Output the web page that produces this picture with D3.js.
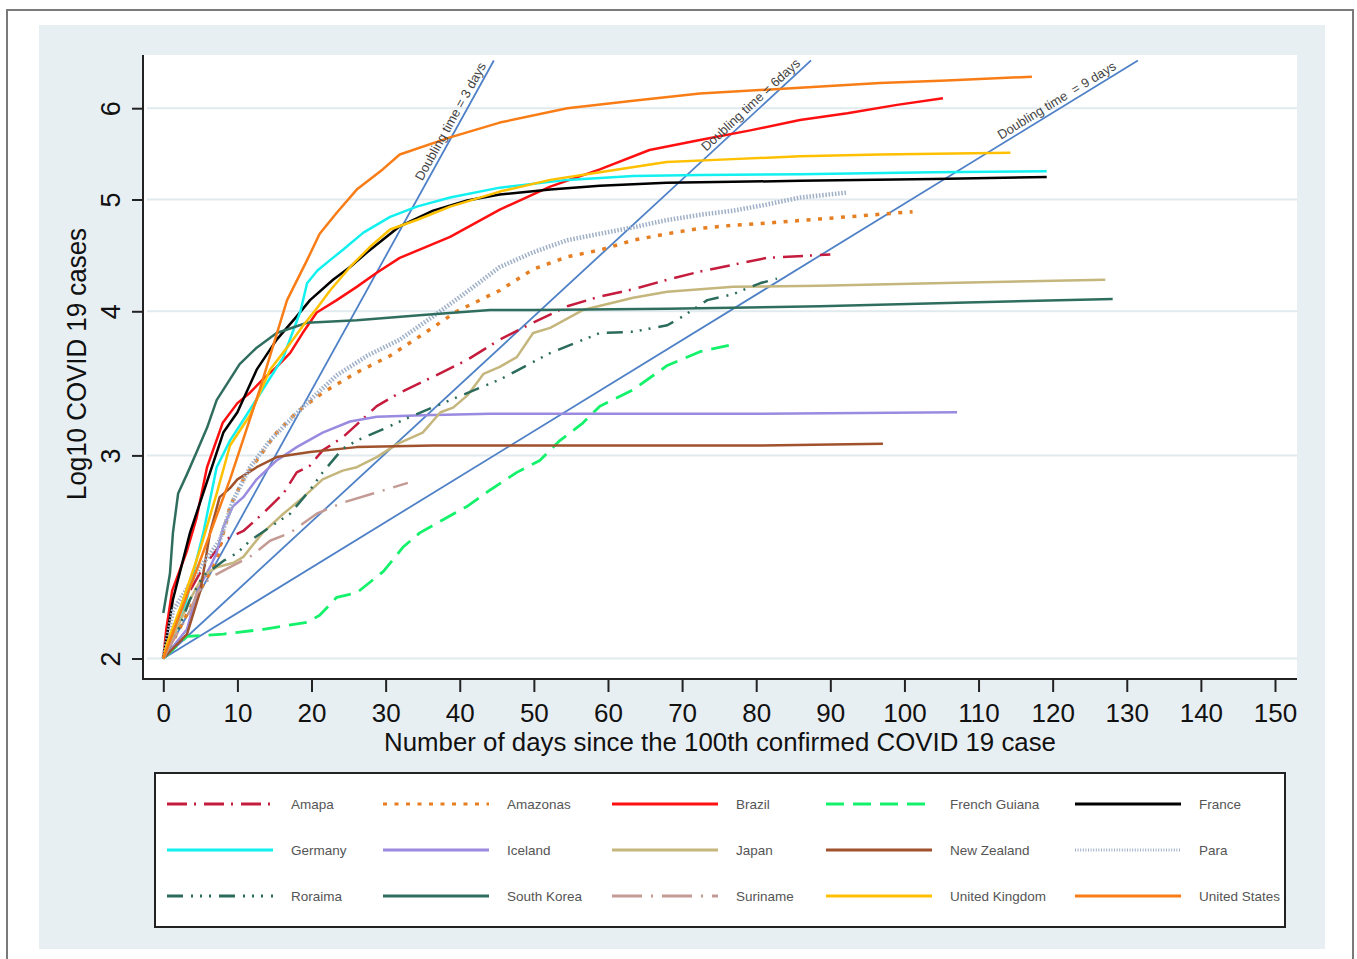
<!DOCTYPE html>
<html>
<head>
<meta charset="utf-8">
<script src="https://cdn.jsdelivr.net/npm/d3@7"></script>
<style>
  body { margin: 0; background: #fff; }
  text { font-family: "Liberation Sans", Arial, sans-serif; }
</style>
</head>
<body>
<script>
// series values: [days since 100th case, log10 cases]
const amapa = [[0,2.0],[0.5,2.05],[1.8,2.16],[3.6,2.29],[5.4,2.40],[8.1,2.53],[10.8,2.58],[13.4,2.67],[16.2,2.78],[18,2.90],[19.8,2.94],[21.5,3.03],[24.2,3.11],[26.1,3.19],[28.8,3.31],[31.9,3.40],[36.4,3.51],[41,3.63],[45.4,3.78],[49.9,3.91],[54.5,4.04],[58.9,4.12],[63.4,4.18],[68,4.26],[72.4,4.33],[76.9,4.39],[81.4,4.45],[90,4.48]];
const amazonas = [[0,2.0],[1.8,2.10],[3.6,2.21],[5.4,2.32],[7.2,2.43],[8.1,2.57],[9,2.71],[10.8,2.86],[12.6,2.97],[15.3,3.14],[18,3.27],[21.5,3.40],[26.1,3.54],[30.6,3.66],[35,3.82],[39.6,4.00],[45.4,4.17],[49.9,4.35],[54.5,4.46],[58.9,4.52],[63.4,4.61],[68,4.67],[72.4,4.72],[76.9,4.75],[81.4,4.77],[88.6,4.81],[92.3,4.83],[101.1,4.88]];
const brazil = [[0,2.0],[0.4,2.12],[1.2,2.29],[3.2,2.48],[4.5,2.65],[5.9,2.93],[8,3.20],[10,3.33],[11.7,3.40],[13.4,3.49],[15.3,3.58],[17.1,3.68],[18.8,3.83],[20.7,3.99],[23.4,4.09],[26.1,4.20],[28.8,4.32],[31.9,4.45],[38.7,4.64],[45.4,4.90],[52.2,5.13],[58.9,5.31],[65.6,5.52],[72.4,5.63],[79.2,5.74],[85.9,5.86],[92.3,5.94],[99,6.04],[105.2,6.12]];
const frenchGuiana = [[0,2.0],[3.2,2.09],[8.1,2.10],[13.5,2.12],[19.4,2.15],[21.1,2.18],[23.4,2.26],[26.1,2.28],[29.7,2.38],[32.4,2.50],[34.6,2.57],[37.8,2.64],[41,2.71],[44.1,2.80],[47.7,2.90],[50.8,2.97],[53.5,3.09],[56.6,3.20],[58.9,3.31],[63.4,3.42],[68,3.59],[72.4,3.69],[77.4,3.75]];
const france = [[0,2.0],[1.3,2.25],[3.6,2.57],[8.1,3.14],[10,3.27],[12.6,3.56],[15.3,3.78],[18,3.96],[19.8,4.09],[22.9,4.26],[25.2,4.37],[27.5,4.50],[31.9,4.74],[36.4,4.89],[41,4.99],[45.4,5.05],[52.2,5.10],[58.9,5.14],[67.9,5.17],[76.9,5.18],[85.9,5.19],[103.9,5.21],[119.2,5.23]];
const germany = [[0,2.0],[2.7,2.19],[5.4,2.57],[7.2,2.93],[9,3.09],[10.8,3.22],[13.4,3.42],[16.2,3.65],[18.5,4.00],[19.4,4.23],[20.8,4.34],[22.5,4.43],[24.2,4.52],[27,4.68],[30.6,4.83],[34.2,4.93],[38.7,5.02],[45.4,5.12],[54.5,5.20],[63.4,5.24],[72.4,5.25],[85.9,5.26],[103.9,5.28],[119.2,5.29]];
const iceland = [[0,2.0],[3.2,2.12],[4.6,2.29],[6.3,2.40],[7.2,2.47],[8.1,2.60],[9.4,2.71],[10.8,2.76],[12.6,2.86],[15.3,2.97],[18,3.05],[21.5,3.14],[25.2,3.21],[28.8,3.24],[35,3.25],[44.1,3.26],[80.5,3.26],[107.1,3.27]];
const japan = [[0,2.0],[3.6,2.25],[5.4,2.36],[7.2,2.40],[9.4,2.42],[10.8,2.45],[13.4,2.57],[16.2,2.67],[18.9,2.76],[21.5,2.86],[24.2,2.91],[26.1,2.93],[28.8,2.99],[31.6,3.07],[35,3.14],[37.4,3.27],[39.1,3.30],[41,3.38],[43.2,3.53],[45.4,3.58],[47.7,3.65],[49.9,3.83],[52.2,3.87],[56.6,4.01],[63.4,4.11],[68,4.16],[76.9,4.20],[88.6,4.21],[103.9,4.23],[127.1,4.26]];
const newZealand = [[0,2.0],[3.2,2.10],[5,2.29],[6.3,2.57],[7.6,2.76],[9,2.81],[10,2.86],[12.6,2.93],[15.3,2.99],[19.8,3.02],[26.1,3.05],[36.4,3.06],[80.5,3.06],[97.1,3.07]];
const para = [[0,2.0],[1.3,2.20],[5,2.40],[7.6,2.53],[9.4,2.74],[11.7,2.93],[14.4,3.09],[17.1,3.22],[19.8,3.35],[23.4,3.52],[27.5,3.66],[31.9,3.78],[36.4,3.96],[41,4.16],[45.4,4.37],[49.9,4.50],[54.5,4.61],[58.9,4.67],[63.4,4.73],[68,4.80],[72.4,4.85],[76.9,4.89],[81.4,4.95],[85.9,5.02],[92.3,5.07]];
const roraima = [[0,2.0],[1.8,2.10],[3.6,2.25],[5.4,2.36],[8.1,2.43],[10,2.47],[11.7,2.53],[14.4,2.60],[17.1,2.67],[19.8,2.80],[21.5,2.90],[24.2,3.04],[26.1,3.09],[29.6,3.16],[33.3,3.24],[38.7,3.35],[45.4,3.49],[52.2,3.68],[58.9,3.83],[63.4,3.84],[68,3.89],[70.1,3.96],[73.4,4.09],[76.9,4.14],[80.5,4.23],[82.8,4.27]];
const southKorea = [[0,2.19],[0.9,2.37],[1.3,2.57],[2,2.78],[3.2,2.89],[4.5,3.02],[5.9,3.17],[7.2,3.35],[8.6,3.46],[10.3,3.60],[12.6,3.72],[15.3,3.83],[19.4,3.91],[26.1,3.93],[35,3.97],[44.1,4.01],[49.9,4.01],[68,4.02],[88.6,4.04],[108.4,4.07],[128.1,4.10]];
const suriname = [[0,2.0],[1.8,2.10],[3.2,2.17],[4.6,2.28],[6.3,2.35],[9,2.40],[11.7,2.45],[14.4,2.53],[17.1,2.57],[20.7,2.67],[24.2,2.73],[28.3,2.78],[33,2.84]];
const unitedKingdom = [[0,2.0],[0.5,2.06],[2.7,2.25],[5,2.49],[7.2,2.78],[9,3.06],[11.7,3.25],[14.4,3.56],[17.1,3.75],[18.9,3.89],[20.8,4.03],[22.5,4.17],[25.2,4.37],[27.9,4.55],[30.6,4.71],[34.2,4.80],[38.7,4.93],[45.4,5.08],[52.2,5.20],[58.9,5.28],[67.9,5.39],[76.9,5.42],[85.9,5.45],[96.7,5.47],[114.3,5.49]];
const unitedStates = [[0,2.0],[4.95,2.43],[9,2.86],[13,3.42],[16.7,4.09],[19.4,4.43],[21.1,4.67],[23.4,4.87],[26.1,5.10],[29.6,5.31],[31.9,5.47],[38.7,5.66],[45.4,5.83],[54.5,6.00],[63.4,6.09],[72.4,6.18],[85.9,6.25],[96.7,6.31],[105.7,6.34],[117.2,6.39]];

const names = ["Amapa","Amazonas","Brazil","French Guiana","France","Germany","Iceland","Japan","New Zealand","Para","Roraima","South Korea","Suriname","United Kingdom","United States"];
const values = [amapa, amazonas, brazil, frenchGuiana, france, germany, iceland, japan, newZealand, para, roraima, southKorea, suriname, unitedKingdom, unitedStates];

// reference lines: doubling time in days, and where each line stops
const doublingDays = [3, 6, 9];
const doublingLabels = ["Doubling time = 3 days", "Doubling time = 6days", "Doubling time  = 9 days"];
const doublingEnd = [[44.6, 6.6], [87.4, 6.6], [131.5, 6.6]];

const xTicks = d3.range(0, 151, 10);
const yTicks = [2, 3, 4, 5, 6];

// styles
const colors = ["#c51b3d","#e67e22","#ff1010","#13f26a","#000000","#12f0f0","#9a8ae0","#c4b67c","#a0522d","#9fb0c8","#2b6b5b","#2f6e5f","#c49a94","#ffc000","#f97d16"];
const dashes = ["20,7,2,8","4,7.5",null,"18,9",null,null,null,null,null,"1.5,1.7","16,8,2,7,2,7,2,8",null,"30,9,2,9",null,null];
const widths = [2.5,3.5,2.5,2.8,2.5,2.5,2.5,2.5,2.5,4.5,2.5,2.5,2.5,2.5,2.5];
const labelBack = [8, 10, 22];   // how far each doubling label stops before its line end

const W = 1357, H = 959;
const plot = {left: 143, right: 1297, top: 55, bottom: 679};

const svg = d3.select("body").append("svg")
    .attr("width", W)
    .attr("height", H);

// frame and backgrounds
svg.append("rect").attr("x", 7).attr("y", 10).attr("width", 1346).attr("height", 970)
    .attr("fill", "#fff").attr("stroke", "#7a7a7a").attr("stroke-width", 2);
svg.append("rect").attr("x", 39).attr("y", 25).attr("width", 1286).attr("height", 924)
    .attr("fill", "#e8eff2");
svg.append("rect").attr("x", plot.left).attr("y", plot.top)
    .attr("width", plot.right - plot.left).attr("height", plot.bottom - plot.top)
    .attr("fill", "#fff");

// scales
const x = d3.scaleLinear().domain([0, 150]).range([163.3, 1275]);
const y = d3.scaleLog().domain([2, 6]).range([658.5, 108.2]);

svg.append("clipPath").attr("id", "clip").append("rect")
    .attr("x", plot.left).attr("y", plot.top)
    .attr("width", plot.right - plot.left).attr("height", plot.bottom - plot.top);

// gridlines
svg.append("g").selectAll("line").data(yTicks).join("line")
    .attr("x1", plot.left + 4).attr("x2", plot.right)
    .attr("y1", d => y(d)).attr("y2", d => y(d))
    .attr("stroke", "#e1eaee").attr("stroke-width", 2);

const g = svg.append("g").attr("clip-path", "url(#clip)");

// doubling time lines
doublingDays.forEach((d, i) => {
    const p0 = [x(0), y(2)];
    const p1 = [x(doublingEnd[i][0]), y(doublingEnd[i][1])];
    g.append("path")
        .datum([[0, 2], doublingEnd[i]])
        .attr("d", d3.line().x(p => x(p[0])).y(p => y(p[1])))
        .attr("fill", "none").attr("stroke", "#4f81c7").attr("stroke-width", 1.8);
    const dx = p1[0] - p0[0], dy = p1[1] - p0[1];
    const len = Math.hypot(dx, dy), ux = dx / len, uy = dy / len;
    const ang = Math.atan2(dy, dx) * 180 / Math.PI;
    const back = labelBack[i];
    const ax = p1[0] - back * ux + 4 * uy, ay = p1[1] - back * uy - 4 * ux;
    svg.append("text")
        .attr("transform", `translate(${ax},${ay}) rotate(${ang})`)
        .attr("text-anchor", "end")
        .attr("font-size", 13)
        .attr("fill", "#444")
        .attr("xml:space", "preserve")
        .text(doublingLabels[i]);
});

// series
const line = d3.line().x(d => x(d[0])).y(d => y(d[1]));
values.forEach((s, i) => {
    g.append("path")
        .datum(s)
        .attr("d", line)
        .attr("fill", "none")
        .attr("stroke", colors[i])
        .attr("stroke-width", widths[i])
        .attr("stroke-dasharray", dashes[i])
        .attr("stroke-linejoin", "round");
});

// axes
svg.append("line").attr("x1", plot.left).attr("x2", plot.left)
    .attr("y1", plot.top).attr("y2", plot.bottom + 1)
    .attr("stroke", "#222").attr("stroke-width", 2);
svg.append("line").attr("x1", plot.left - 1).attr("x2", plot.right)
    .attr("y1", plot.bottom).attr("y2", plot.bottom)
    .attr("stroke", "#222").attr("stroke-width", 2);

const yAxis = svg.append("g")
    .attr("transform", `translate(${plot.left},0)`)
    .call(d3.axisLeft(y).tickValues(yTicks).tickSize(11).tickFormat(d3.format("d")));
yAxis.select(".domain").remove();
yAxis.selectAll("line").attr("stroke", "#222").attr("stroke-width", 2);
yAxis.selectAll("text")
    .attr("x", null).attr("dy", null)
    .attr("transform", "translate(-23,0) rotate(-90)")
    .attr("text-anchor", "middle")
    .attr("font-size", 27)
    .attr("font-family", "Liberation Sans, Arial, sans-serif")
    .attr("fill", "#111");

const xAxis = svg.append("g")
    .attr("transform", `translate(0,${plot.bottom})`)
    .call(d3.axisBottom(x).tickValues(xTicks).tickSize(13));
xAxis.select(".domain").remove();
xAxis.selectAll("line").attr("stroke", "#222").attr("stroke-width", 2);
xAxis.selectAll("text")
    .attr("y", 43).attr("dy", null)
    .attr("font-size", 26)
    .attr("font-family", "Liberation Sans, Arial, sans-serif")
    .attr("fill", "#111");

// axis titles
svg.append("text")
    .attr("x", 720).attr("y", 751)
    .attr("text-anchor", "middle")
    .attr("font-size", 26)
    .attr("textLength", 672).attr("lengthAdjust", "spacingAndGlyphs")
    .attr("fill", "#111")
    .text("Number of days since the 100th confirmed COVID 19 case");
svg.append("text")
    .attr("transform", "translate(86,364) rotate(-90)")
    .attr("text-anchor", "middle")
    .attr("font-size", 28)
    .attr("textLength", 272).attr("lengthAdjust", "spacingAndGlyphs")
    .attr("fill", "#111")
    .text("Log10 COVID 19 cases");

// legend
const legCols = [167, 383, 612, 826, 1075];
const legRows = [804, 850, 896];
const legLine = 106, legGap = 18;
svg.append("rect").attr("x", 155).attr("y", 773).attr("width", 1130).attr("height", 154)
    .attr("fill", "#fff").attr("stroke", "#222").attr("stroke-width", 2);
names.forEach((n, i) => {
    const cx = legCols[i % 5], cy = legRows[Math.floor(i / 5)];
    svg.append("line")
        .attr("x1", cx).attr("x2", cx + legLine)
        .attr("y1", cy).attr("y2", cy)
        .attr("stroke", colors[i])
        .attr("stroke-width", i === 9 ? 3 : 2.8)
        .attr("stroke-dasharray", i === 9 ? "1,1.6" : dashes[i]);
    svg.append("text")
        .attr("x", cx + legLine + legGap).attr("y", cy + 5)
        .attr("font-size", 13.5)
        .attr("fill", "#555")
        .text(n);
});
</script>
</body>
</html>
